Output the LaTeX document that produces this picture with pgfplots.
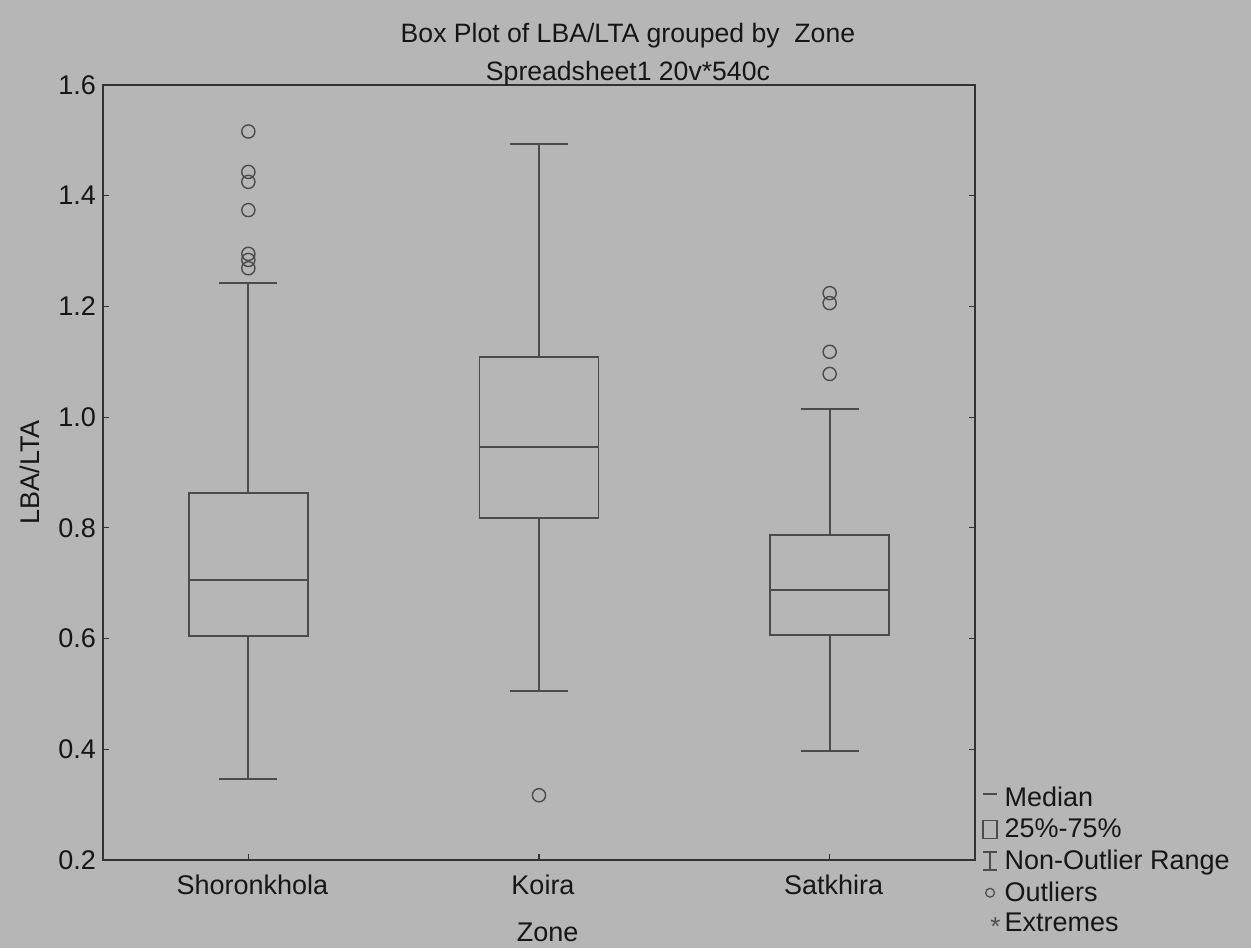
\documentclass[border=0pt]{standalone}
\usepackage{pgfplots}
\pgfplotsset{compat=1.18}
\usepgfplotslibrary{statistics}
\usepackage{fontspec}
\setmainfont{Liberation Sans}
\definecolor{bg}{RGB}{182,182,182}
\definecolor{ln}{RGB}{50,50,50}
\definecolor{wk}{RGB}{75,75,75}
\definecolor{tx}{RGB}{22,22,22}
\begin{document}
\begin{tikzpicture}
\fill[bg] (-51.5pt,-44pt) rectangle (574pt,430pt);
\path[use as bounding box] (-51.5pt,-44pt) rectangle (574pt,430pt);
\begin{axis}[
  at={(0,0)}, anchor=south west,
  width=436pt, height=387.5pt, scale only axis,
  xmin=0.5, xmax=3.5, ymin=0.2, ymax=1.6,
  xtick={1,2,3}, xticklabels={Shoronkhola,Koira,Satkhira},
  xtick pos=bottom,
  ytick={0.2,0.4,0.6,0.8,1.0,1.2,1.4,1.6},
  yticklabel style={/pgf/number format/.cd, fixed, fixed zerofill, precision=1},
  xticklabel style={yshift=-4pt, xshift=2pt},
  /pgf/number format/assume math mode=true,
  tick align=inside, major tick length=3pt,
  tick style={ln, line width=0.6pt},
  axis line style={ln, line width=1pt},
  font=\fontsize{13.5}{15}\selectfont, text=tx,
  xlabel={Zone}, ylabel={LBA/LTA},
  xlabel style={at={(axis description cs:0.51,-0.093)}, anchor=center},
  ylabel style={at={(axis description cs:-0.084,0.5)}, anchor=center, rotate=0},
  legend style={draw=none, fill=none, at={(rel axis cs:1.008,0.1)}, anchor=north west,
    font=\fontsize{13.5}{15}\selectfont, row sep=0.6pt, inner sep=0pt,
    /tikz/every even column/.append style={column sep=4pt}},
  legend cell align=left,
  boxplot/draw direction=y,
  clip=false,
]
\addlegendimage{legend image code/.code={\draw[wk, line width=0.7pt] (0pt,2pt) -- (7pt,2pt);}}
\addlegendimage{legend image code/.code={\draw[wk, line width=0.7pt] (0pt,-4.5pt) rectangle (7pt,4.5pt);}}
\addlegendimage{legend image code/.code={\draw[wk, line width=0.7pt] (3.5pt,-4.5pt) -- (3.5pt,4.5pt) (0pt,4.5pt) -- (7pt,4.5pt) (0pt,-4.5pt) -- (7pt,-4.5pt);}}
\addlegendimage{legend image code/.code={\draw[wk, line width=0.6pt] (3.5pt,0pt) circle (2.2pt);}}
\addlegendimage{legend image code/.code={\node[wk, inner sep=0pt] at (3.5pt,-2pt) {\fontsize{13}{13}\selectfont *};}}
\legend{Median, 25\%-75\%, Non-Outlier Range, Outliers, Extremes}

\addplot[wk, line width=0.9pt, forget plot, mark=o, mark size=3.3pt, mark options={line width=0.7pt},
  boxplot prepared={draw position=1, median=0.706, lower quartile=0.605, upper quartile=0.863,
    lower whisker=0.346, upper whisker=1.242, box extend=0.41, whisker extend=0.2}]
  table[row sep=\\, y index=0] {y\\1.516\\1.443\\1.425\\1.374\\1.295\\1.284\\1.269\\};
\addplot[wk, line width=0.9pt, forget plot, mark=o, mark size=3.3pt, mark options={line width=0.7pt},
  boxplot prepared={draw position=2, median=0.946, lower quartile=0.818, upper quartile=1.109,
    lower whisker=0.505, upper whisker=1.493, box extend=0.41, whisker extend=0.2}]
  table[row sep=\\, y index=0] {y\\0.317\\};
\addplot[wk, line width=0.9pt, forget plot, mark=o, mark size=3.3pt, mark options={line width=0.7pt},
  boxplot prepared={draw position=3, median=0.688, lower quartile=0.606, upper quartile=0.787,
    lower whisker=0.397, upper whisker=1.015, box extend=0.41, whisker extend=0.2}]
  table[row sep=\\, y index=0] {y\\1.224\\1.206\\1.118\\1.078\\};

\node[anchor=base, text=tx, font=\fontsize{13.3}{15}\selectfont] at (rel axis cs:0.602,1) [yshift=21pt] {Box Plot of LBA/LTA grouped by\ \ Zone};
\node[anchor=base, text=tx, font=\fontsize{13.3}{15}\selectfont] at (rel axis cs:0.602,1) [yshift=2pt] {Spreadsheet1 20v*540c};
\end{axis}
\end{tikzpicture}
\end{document}
